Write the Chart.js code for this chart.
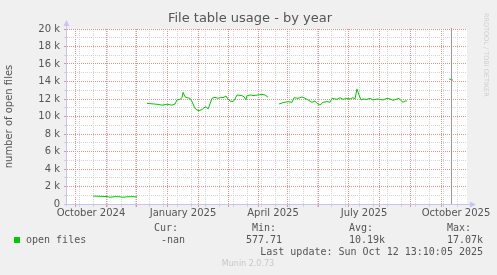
<!DOCTYPE html>
<html>
<head>
<meta charset="utf-8">
<script src="https://cdn.jsdelivr.net/npm/chart.js@4.4.0/dist/chart.umd.min.js"></script>
<style>
html, body { margin: 0; padding: 0; background: #f0f0f0; }
canvas { display: block; }
</style>
</head>
<body>
<canvas id="fileChart" width="497" height="275"></canvas>
<script>
// x = days since 2024-09-07 (the graph covers the 400 days up to the last update)
const days = [
    26, 40, 43, 48, 53, 56, 61, 66, 70, 75,
    80, 90, 95, 100, 105, 108, 110, 113, 115, 116, 118, 120, 123, 125, 128, 130, 132, 135, 137, 139, 141, 142,
    145, 148, 151, 155, 156, 159, 161, 163, 166, 168, 170, 175, 177, 179, 180, 184, 186, 191, 195, 198, 201, 206,
    212, 216, 221, 225, 227, 231, 235, 238, 241, 245, 248, 250, 253, 256, 260, 263, 265, 270, 273, 276, 280, 283,
    286, 288, 290, 292, 294, 296, 300, 303, 306, 310, 313, 316, 320, 323, 326, 330, 332, 335, 336, 338, 340, 360,
    382, 386
];
const openFiles = [
    910, 850, 780, 840, 830, 770, 830, 840, 800, null,
    11500, 11400, 11300, 11400, 11300, 11430, 11900, 11960, 12150, 12760, 12260, 12150, 12080, 11700, 10930, 10740, 10670, 10800, 11000, 11120, 10860, 11120,
    12080, 12190, 12080, 12190, 12150, 12340, 12000, 11770, 11700, 12000, 12460, 12380, 12260, 11890, 12380, 12460, 12380, 12460, 12530, 12460, 12190, null,
    11430, 11580, 11700, 11620, 12150, 12080, 12230, 12080, 11890, 11620, 11770, 11500, 11310, 11620, 11700, 11620, 12080, 11960, 12150, 11960, 12080, 12000,
    12150, 12000, 13140, 12460, 11890, 12000, 11960, 12080, 11890, 12000, 11960, 11890, 12080, 12000, 11850, 12000, 12080, 11700, 11620, 11770, 11770, null,
    14300, 14150
];

const monthLabelDays = [24, 116, 206, 297, 389];
const monthLabels = ['October 2024', 'January 2025', 'April 2025', 'July 2025', 'October 2025'];
const majorGridDays = [8, 39, 69, 100, 131, 161, 191, 220, 251, 281, 312, 343, 374];
const vruleDays = [384.3];

const legendNames = ['open files'];
const statHeads = ['Cur:', 'Min:', 'Avg:', 'Max:'];
const statValues = ['-nan', '577.71', '10.19k', '17.07k'];
const lastUpdate = 'Last update: Sun Oct 12 13:10:05 2025';

const RED = '#e49090';
const GRAY = '#d4d4d4';
const AXIS = '#c6c6f2';
const TEXT = '#555555';
const GREEN = '#00cc00';

const minorGridDays = [];
for (let d = 12.3; d < 400; d += 14) minorGridDays.push(d);

const labelAt = v => monthLabels[monthLabelDays.indexOf(v)];
const xColor = c => {
    const v = c.tick.value;
    if (majorGridDays.includes(v)) return RED;
    if (monthLabelDays.includes(v)) return 'rgba(0,0,0,0)';
    return GRAY;
};
const yColor = c => (c.tick.value % 2000 === 0 ? RED : GRAY);

const muninFrame = {
    id: 'muninFrame',
    beforeDraw(chart) {
        const { ctx, chartArea: a } = chart;
        ctx.save();
        ctx.fillStyle = '#f0f0f0';
        ctx.fillRect(0, 0, chart.width, chart.height);
        ctx.fillStyle = '#ffffff';
        ctx.fillRect(a.left, a.top, a.right - a.left, a.bottom - a.top);
        ctx.restore();
    },
    afterDatasetsDraw(chart) {
        const { ctx, chartArea: a, scales } = chart;
        ctx.save();
        ctx.strokeStyle = '#999999';
        ctx.lineWidth = 1;
        vruleDays.forEach(d => {
            const x = Math.round(scales.x.getPixelForValue(d)) + 0.5;
            ctx.beginPath();
            ctx.moveTo(x, a.top - 1);
            ctx.lineTo(x, a.bottom);
            ctx.stroke();
        });
        ctx.restore();
    },
    afterDraw(chart) {
        const { ctx, chartArea: a } = chart;
        ctx.save();
        // axes with arrows
        ctx.strokeStyle = AXIS;
        ctx.fillStyle = AXIS;
        ctx.lineWidth = 1;
        ctx.beginPath();
        ctx.moveTo(a.left - 0.5, a.bottom + 2);
        ctx.lineTo(a.left - 0.5, a.top - 4);
        ctx.moveTo(a.left - 3, a.bottom + 0.5);
        ctx.lineTo(a.right + 4, a.bottom + 0.5);
        ctx.stroke();
        ctx.beginPath();
        ctx.moveTo(a.left - 3.5, a.top - 3);
        ctx.lineTo(a.left + 2.5, a.top - 3);
        ctx.lineTo(a.left - 0.5, a.top - 9);
        ctx.closePath();
        ctx.fill();
        ctx.beginPath();
        ctx.moveTo(a.right + 3, a.bottom - 2.5);
        ctx.lineTo(a.right + 3, a.bottom + 3.5);
        ctx.lineTo(a.right + 9, a.bottom + 0.5);
        ctx.closePath();
        ctx.fill();

        // title
        ctx.fillStyle = TEXT;
        ctx.font = '13px "DejaVu Sans"';
        ctx.textAlign = 'center';
        ctx.textBaseline = 'middle';
        ctx.fillText('File table usage - by year', 250, 19);

        // legend block
        ctx.font = '10px "DejaVu Sans Mono"';
        ctx.textAlign = 'left';
        const headX = [154, 252, 349, 447];
        const valX = [161, 246, 349, 447];
        statHeads.forEach((t, i) => ctx.fillText(t, headX[i], 228));
        statValues.forEach((t, i) => ctx.fillText(t, valX[i], 240));
        ctx.fillText(legendNames[0], 26, 240);
        ctx.textAlign = 'right';
        ctx.fillText(lastUpdate, 483, 252);
        ctx.fillStyle = GREEN;
        ctx.fillRect(14, 237, 6, 6);

        ctx.fillStyle = '#c8c8c8';
        ctx.font = '8px "DejaVu Sans"';
        ctx.textAlign = 'center';
        ctx.fillText('Munin 2.0.73', 248, 264);

        // rrdtool credit
        ctx.translate(486, 13);
        ctx.rotate(Math.PI / 2);
        ctx.font = '6.5px "DejaVu Sans"';
        ctx.textAlign = 'left';
        ctx.fillStyle = '#cfcfcf';
        ctx.fillText('RRDTOOL / TOBI OETIKER', 0, 0);
        ctx.restore();
    }
};

const ctx = document.getElementById('fileChart').getContext('2d');
new Chart(ctx, {
    type: 'line',
    data: {
        datasets: [{
            label: legendNames[0],
            data: days.map((d, i) => ({ x: d, y: openFiles[i] })),
            borderColor: GREEN,
            borderWidth: 1,
            pointRadius: 0,
            tension: 0,
            fill: false,
            spanGaps: false
        }]
    },
    options: {
        responsive: false,
        animation: false,
        devicePixelRatio: 1,
        layout: { padding: { top: 29, right: 30, bottom: 51, left: 0 } },
        plugins: {
            legend: { display: false },
            tooltip: { enabled: false }
        },
        scales: {
            x: {
                type: 'linear',
                min: 0,
                max: 400,
                afterBuildTicks: s => {
                    s.ticks = [...minorGridDays, ...majorGridDays, ...monthLabelDays]
                        .sort((p, q) => p - q)
                        .map(v => ({ value: v }));
                },
                afterFit: s => { s.height = 20; },
                ticks: {
                    autoSkip: false,
                    maxRotation: 0,
                    minRotation: 0,
                    padding: 0,
                    color: TEXT,
                    font: { family: 'DejaVu Sans', size: 10 },
                    callback: v => labelAt(v) || ''
                },
                grid: { color: xColor, tickColor: xColor, tickLength: 3, lineWidth: 1 },
                border: { display: false, dash: [1, 1] }
            },
            y: {
                min: 0,
                max: 20000,
                afterFit: s => { s.width = 67; },
                ticks: {
                    stepSize: 1000,
                    autoSkip: false,
                    padding: 4,
                    color: TEXT,
                    font: { family: 'DejaVu Sans', size: 10 },
                    callback: v => (v % 2000 !== 0 ? '' : v === 0 ? '0' : (v / 1000) + ' k')
                },
                title: {
                    display: true,
                    text: 'number of open files',
                    color: TEXT,
                    font: { family: 'DejaVu Sans', size: 10 },
                    padding: { top: 3, bottom: 0 }
                },
                grid: { color: yColor, tickColor: yColor, tickLength: 3, lineWidth: 1 },
                border: { display: false, dash: [1, 1] }
            }
        }
    },
    plugins: [muninFrame]
});
</script>
</body>
</html>
